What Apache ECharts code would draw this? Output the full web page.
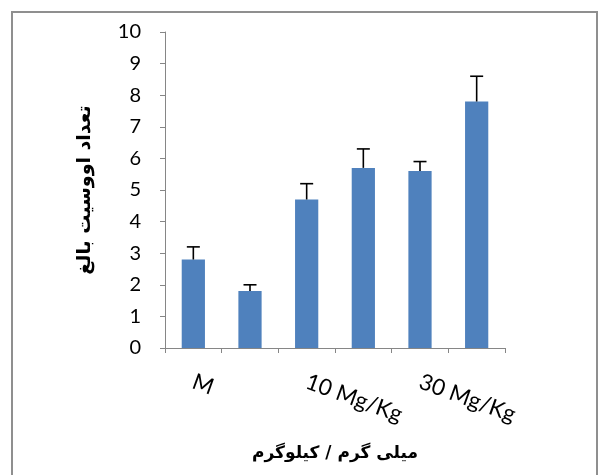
<!DOCTYPE html>
<html>
<head>
<meta charset="utf-8">
<script src="https://cdn.jsdelivr.net/npm/echarts@6/dist/echarts.min.js"></script>
<style>
html,body{margin:0;padding:0;background:#fff;}
#chart{width:599px;height:475px;}
</style>
</head>
<body>
<div id="chart"></div>
<script>
const categories = ["M", "", "10 Mg/Kg", "", "30 Mg/Kg", ""];
const meanValues = [2.8, 1.8, 4.7, 5.7, 5.6, 7.8];
const errorTops = [3.2, 2.0, 5.2, 6.3, 5.9, 8.6];
const yTicks = [0, 1, 2, 3, 4, 5, 6, 7, 8, 9, 10];
const xTitle = "میلی گرم / کیلوگرم";
const yTitle = "تعداد اووسیت بالغ";

const chart = echarts.init(document.getElementById('chart'), null, {renderer: 'canvas'});
const axisGray = '#868686';
const labelFont = 'Lato, "Open Sans", sans-serif';

const errData = meanValues.map((v, i) => [i, v, errorTops[i]]);

chart.setOption({
  animation: false,
  backgroundColor: '#fff',
  graphic: [{
    type: 'rect',
    shape: {x: 12, y: 12, width: 585, height: 520},
    style: {fill: 'none', stroke: '#8f8f8f', lineWidth: 2},
    silent: true, z: -10
  }],
  grid: {left: 165, right: 94, top: 32, bottom: 127, containLabel: false},
  xAxis: {
    type: 'category',
    data: categories,
    name: xTitle,
    nameLocation: 'middle',
    nameGap: 97,
    nameTextStyle: {fontFamily: '"DejaVu Sans", sans-serif', fontWeight: 'bold', fontSize: 17, color: '#000'},
    axisLine: {lineStyle: {color: axisGray, width: 1}},
    axisTick: {show: true, length: 5, lineStyle: {color: axisGray}},
    axisLabel: {
      interval: 0, rotate: -20, margin: 33,
      fontFamily: labelFont, fontSize: 22.5, color: '#000'
    }
  },
  yAxis: {
    type: 'value',
    min: yTicks[0], max: yTicks[yTicks.length - 1], interval: 1,
    name: yTitle,
    nameLocation: 'middle',
    nameGap: 70,
    nameRotate: 90,
    nameTextStyle: {fontFamily: '"DejaVu Sans", sans-serif', fontWeight: 'bold', fontSize: 19, color: '#000'},
    axisLine: {show: true, lineStyle: {color: axisGray, width: 1}},
    axisTick: {show: true, length: 5, lineStyle: {color: axisGray}},
    splitLine: {show: false},
    axisLabel: {margin: 24, fontFamily: labelFont, fontSize: 20, color: '#000'}
  },
  series: [
    {
      type: 'bar',
      data: meanValues,
      barWidth: '41%',
      itemStyle: {color: '#4F81BD'},
      z: 2
    },
    {
      type: 'custom',
      data: errData,
      z: 3,
      renderItem: function (params, api) {
        const x = api.value(0);
        const lo = api.coord([x, api.value(1)]);
        const hi = api.coord([x, api.value(2)]);
        const half = 6.5;
        const style = {stroke: '#000', lineWidth: 1.6};
        return {
          type: 'group',
          children: [
            {type: 'line', shape: {x1: lo[0], y1: lo[1], x2: hi[0], y2: hi[1]}, style: style},
            {type: 'line', shape: {x1: hi[0] - half, y1: hi[1], x2: hi[0] + half, y2: hi[1]}, style: style}
          ]
        };
      }
    }
  ]
});
</script>
</body>
</html>
